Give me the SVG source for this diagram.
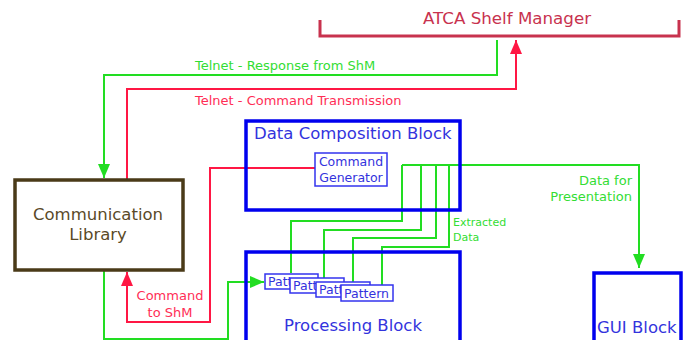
<svg xmlns="http://www.w3.org/2000/svg" width="688" height="340" viewBox="0 0 688 340">
  <style>
    text { font-family: "DejaVu Sans", "Liberation Sans", sans-serif; }
    .g { fill: none; stroke: #22dd22; stroke-width: 2; }
    .r { fill: none; stroke: #ff1744; stroke-width: 2; }
    .gt { fill: #33dd33; font-size: 13px; }
    .rt { fill: #ff2d55; font-size: 13px; }
    .blk { fill: none; stroke: #0000ee; stroke-width: 3.5; }
    .bt { fill: #3333dd; font-size: 16.5px; }
    .sub { fill: #ffffff; stroke: #3333ee; stroke-width: 1.5; }
    .st { fill: #3333dd; font-size: 12.5px; }
  </style>
  <defs>
    <marker id="ag" markerUnits="userSpaceOnUse" markerWidth="14" markerHeight="14" viewBox="0 0 14 12" refX="14" refY="6" orient="auto">
      <path d="M0,0 L14,6 L0,12 Z" fill="#22dd22"/>
    </marker>
    <marker id="ar" markerUnits="userSpaceOnUse" markerWidth="14" markerHeight="14" viewBox="0 0 14 12" refX="14" refY="6" orient="auto">
      <path d="M0,0 L14,6 L0,12 Z" fill="#ff1744"/>
    </marker>
  </defs>

  <!-- connectors -->
  <g id="connectors">
    <!-- telnet response: shelf manager to communication library -->
    <path class="g" d="M497,40 V75 H104 V178" marker-end="url(#ag)"/>
    <!-- telnet command: communication library to shelf manager -->
    <path class="r" d="M127,180 V89 H516 V40" marker-end="url(#ar)"/>
    <!-- command generator to communication library -->
    <path class="r" d="M315,168 H210 V322 H127 V272" marker-end="url(#ar)"/>
    <!-- communication library to patterns -->
    <path class="g" d="M104,270 V339 H228 V282 H264" marker-end="url(#ag)"/>
    <!-- extracted data fan-out -->
    <path class="g" d="M402,165 H639 V268" marker-end="url(#ag)"/>
    <path class="g" d="M402,165 V221 H291 V273"/>
    <path class="g" d="M421,165 V230 H324 V278"/>
    <path class="g" d="M436,165 V238 H353 V282"/>
    <path class="g" d="M449,165 V247 H382 V285"/>
    <text class="gt" x="195" y="70">Telnet - Response from ShM</text>
    <text class="rt" x="195" y="105">Telnet - Command Transmission</text>
    <text class="rt" x="170" y="300" text-anchor="middle">Command</text>
    <text class="rt" x="170" y="317" text-anchor="middle">to ShM</text>
    <text class="gt" x="453" y="226" style="font-size:11px">Extracted</text>
    <text class="gt" x="453" y="241" style="font-size:11px">Data</text>
    <text class="gt" x="632" y="185" text-anchor="end">Data for</text>
    <text class="gt" x="632" y="201" text-anchor="end">Presentation</text>
  </g>

  <!-- ATCA shelf manager -->
  <g id="shelf-manager">
    <path d="M320,20 V36 H679 V20" fill="none" stroke="#c8324e" stroke-width="3"/>
    <text x="507" y="24" text-anchor="middle" style="fill:#c8324e;font-size:16.7px">ATCA Shelf Manager</text>
  </g>

  <!-- communication library -->
  <g id="communication-library">
    <rect x="15" y="180" width="168" height="90" fill="none" stroke="#4a3a18" stroke-width="3.5"/>
    <text x="98" y="220" text-anchor="middle" style="fill:#5a4a28;font-size:16.5px">Communication</text>
    <text x="98" y="240" text-anchor="middle" style="fill:#5a4a28;font-size:16.5px">Library</text>
  </g>

  <!-- data composition block -->
  <g id="data-composition">
    <rect class="blk" x="246" y="121" width="214" height="89"/>
    <text class="bt" x="254" y="139">Data Composition Block</text>
  </g>

  <g id="command-generator">
    <rect class="sub" x="315" y="153" width="72" height="33"/>
    <text class="st" x="351" y="166" text-anchor="middle">Command</text>
    <text class="st" x="351" y="182" text-anchor="middle">Generator</text>
  </g>

  <!-- processing block -->
  <g id="processing-block">
    <rect class="blk" x="246" y="252" width="214" height="100"/>
    <text class="bt" x="353" y="331" text-anchor="middle">Processing Block</text>
  </g>

  <g id="pattern-1">
    <rect class="sub" x="265" y="274" width="53" height="15"/>
    <text class="st" x="268" y="286">Pattern</text>
  </g>
  <g id="pattern-2">
    <rect class="sub" x="290" y="278" width="54" height="15"/>
    <text class="st" x="293" y="290">Pattern</text>
  </g>
  <g id="pattern-3">
    <rect class="sub" x="316" y="282" width="54" height="15"/>
    <text class="st" x="319" y="294">Pattern</text>
  </g>
  <g id="pattern-4">
    <rect class="sub" x="341" y="285" width="52" height="16"/>
    <text class="st" x="344" y="297.5">Pattern</text>
  </g>

  <!-- GUI block -->
  <g id="gui-block">
    <rect class="blk" x="594" y="273" width="87" height="80"/>
    <text class="bt" x="597" y="333">GUI Block</text>
  </g>
</svg>
